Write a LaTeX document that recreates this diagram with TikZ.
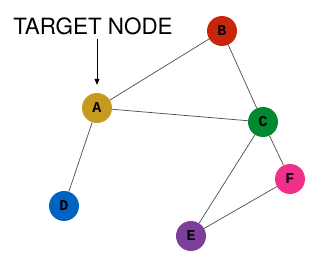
\documentclass[tikz,border=0pt]{standalone}
\usepackage{fontspec}
\setmainfont{TeX Gyre Heros}
\setmonofont{Liberation Mono}
\usepackage{tikz}
\usetikzlibrary{arrows.meta}

\definecolor{goldA}{HTML}{C69A1E}
\definecolor{redB}{HTML}{C8260A}
\definecolor{greenC}{HTML}{00892E}
\definecolor{blueD}{HTML}{0063C0}
\definecolor{purpleE}{HTML}{7B3F9A}
\definecolor{pinkF}{HTML}{F0308A}
\definecolor{edgegray}{HTML}{555555}

\begin{document}
\begin{tikzpicture}[
  x=1pt, y=-1pt,
  vertex/.style={circle, minimum size=30pt, inner sep=0pt, font=\ttfamily\bfseries\fontsize{15}{15}\selectfont},
  link/.style={draw=edgegray, line width=0.75pt},
  >={Triangle[length=6pt, width=5pt]}
]
\useasboundingbox (0,0) rectangle (322,265);

\node[vertex, fill=goldA]   (A) at (97,108)  {A};
\node[vertex, fill=redB]    (B) at (222,31)  {B};
\node[vertex, fill=greenC]  (C) at (263,122) {C};
\node[vertex, fill=blueD]   (D) at (64,206)  {D};
\node[vertex, fill=purpleE] (E) at (191,236) {E};
\node[vertex, fill=pinkF]   (F) at (290,179) {F};

\node[font=\fontsize{22.4}{22.4}\selectfont, inner sep=0pt] (lbl) at (93,26.5) {TARGET NODE};

\draw[link] (A) -- (B);
\draw[link] (A) -- (C);
\draw[link] (B) -- (C);
\draw[link] (A) -- (D);
\draw[link] (C) -- (E);
\draw[link] (C) -- (F);
\draw[link] (E) -- (F);

\draw[->, line width=0.8pt, shorten <=4pt, shorten >=8pt] (lbl.south -| A) -- (A.north);
\end{tikzpicture}
\end{document}
